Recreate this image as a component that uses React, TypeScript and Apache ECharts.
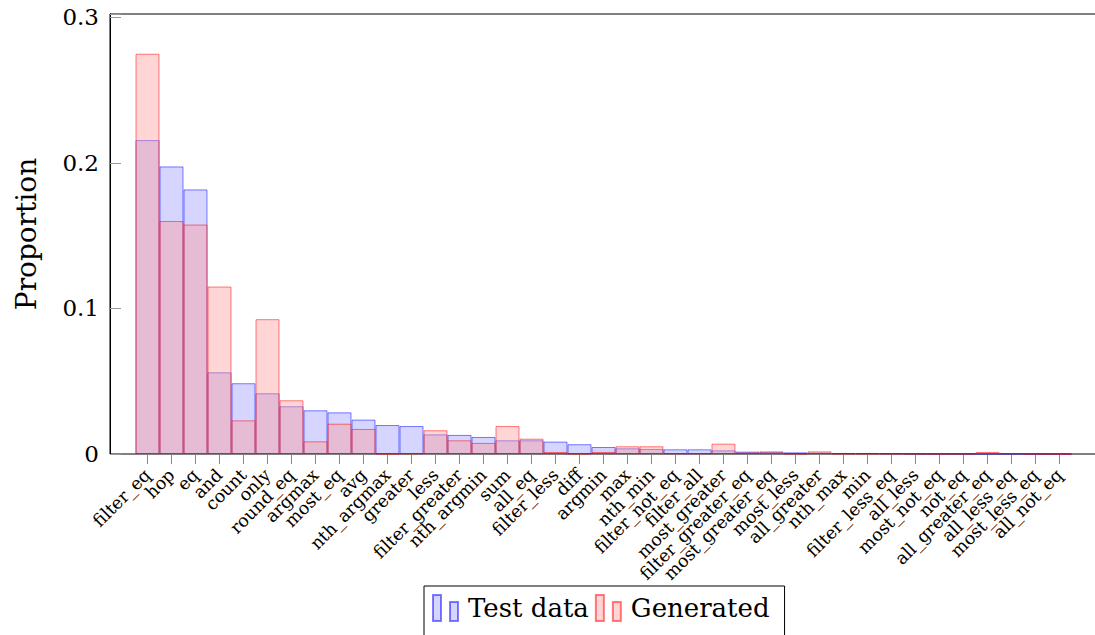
import React, { useEffect, useRef } from "react";
import * as echarts from "echarts";

const categories = [
  "filter_eq", "hop", "eq", "and", "count", "only", "round_eq", "argmax", "most_eq", "avg",
  "nth_argmax", "greater", "less", "filter_greater", "nth_argmin", "sum", "all_eq", "filter_less",
  "diff", "argmin", "max", "nth_min", "filter_not_eq", "filter_all", "most_greater",
  "filter_greater_eq", "most_greater_eq", "most_less", "all_greater", "nth_max", "min",
  "filter_less_eq", "all_less", "most_not_eq", "not_eq", "all_greater_eq", "all_less_eq",
  "most_less_eq", "all_not_eq",
];

const testData = [
  0.2156, 0.1975, 0.1817, 0.0561, 0.0486, 0.0417, 0.0328, 0.03, 0.0286, 0.0236,
  0.0199, 0.0192, 0.0135, 0.0131, 0.0117, 0.0094, 0.0094, 0.0085, 0.0067, 0.0048,
  0.0039, 0.0034, 0.0032, 0.0032, 0.0025, 0.0016, 0.0014, 0.0011, 0.0009, 0.0007,
  0.0007, 0.0005, 0.0003, 0.0002, 0.0002, 0.0001, 0.0001, 0.0001, 0.0001,
];

const generated = [
  0.2749, 0.16, 0.1576, 0.115, 0.0231, 0.0926, 0.0369, 0.0087, 0.0208, 0.0172,
  0.0001, 0.0004, 0.0163, 0.0094, 0.0076, 0.0192, 0.0105, 0.0014, 0.0002, 0.0014,
  0.0053, 0.0053, 0.0005, 0.0005, 0.0071, 0.001, 0.0018, 0.0002, 0.0018, 0.0003,
  0.0003, 0.0003, 0.0002, 0.0001, 0.0002, 0.0014, 0.0005, 0.0001, 0.0,
];

const yTicks = [0, 0.1, 0.2, 0.3];
const yMax = 0.3022;

const FONT = "DejaVu Serif";
const legendIcon = "path://M0,0H8V26H0Z M17,7H25V26H17Z";

export default function App() {
  const ref = useRef<HTMLDivElement>(null);
  useEffect(() => {
    if (!ref.current) return;
    const chart = echarts.init(ref.current, undefined, { renderer: "svg" });
    const fmtY = (v: number) => {
      const hit = yTicks.find((t) => Math.abs(t - v) < 1e-9);
      if (hit === undefined) return "";
      return hit === 0 ? "0" : String(hit);
    };
    chart.setOption({
      animation: false,
      backgroundColor: "#fff",
      grid: [
        {
          left: 110, right: -3, top: 14, bottom: 181,
          show: true, borderColor: "#000", borderWidth: 1, backgroundColor: "transparent",
          outerBoundsMode: "none", containLabel: false,
        },
        { left: 135.5, width: 936, top: 14, bottom: 181, outerBoundsMode: "none", containLabel: false },
      ],
      xAxis: [
        { type: "value", gridIndex: 0, min: 0, max: 1, show: false },
        {
          type: "category",
          gridIndex: 1,
          data: categories,
          boundaryGap: true,
          axisLine: { show: false },
          axisTick: { show: true, alignWithLabel: true, length: 10, lineStyle: { color: "#888", width: 1 } },
          axisLabel: {
            interval: 0,
            rotate: 45,
            margin: 18,
            fontFamily: FONT,
            fontSize: 17.5,
            color: "#000",
          },
          splitLine: { show: false },
        },
      ],
      yAxis: [
        {
          type: "value",
          gridIndex: 0,
          min: 0,
          max: yMax,
          interval: 0.1,
          name: "Proportion",
          nameLocation: "middle",
          nameRotate: 90,
          nameGap: 70,
          nameTextStyle: { fontFamily: FONT, fontSize: 28, color: "#000" },
          axisLine: { show: true, lineStyle: { color: "#000", width: 1 } },
          axisTick: { show: true, inside: true, length: 11, lineStyle: { color: "#999", width: 1 } },
          axisLabel: { formatter: fmtY, fontFamily: FONT, fontSize: 23, color: "#000", margin: 11, showMaxLabel: true },
          splitLine: { show: false },
        },
        { type: "value", gridIndex: 1, min: 0, max: yMax, show: false, splitLine: { show: false } },
      ],
      legend: {
        left: 424,
        top: 586,
        orient: "horizontal",
        data: [
          { name: "Test data", icon: legendIcon },
          { name: "Generated", icon: legendIcon },
        ],
        itemWidth: 25,
        itemHeight: 26,
        itemGap: 6,
        padding: [8, 15, 30, 8],
        borderColor: "#000",
        borderWidth: 1,
        textStyle: { fontFamily: FONT, fontSize: 26, color: "#000", padding: [0, 0, 0, 5] },
      },
      series: [
        {
          name: "Test data",
          type: "bar",
          xAxisIndex: 1,
          yAxisIndex: 1,
          data: testData,
          barCategoryGap: "0%",
          barGap: "-100%",
          itemStyle: { color: "rgba(150,150,255,0.4)", borderColor: "rgba(0,0,255,0.5)", borderWidth: 1 },
        },
        {
          name: "Generated",
          type: "bar",
          xAxisIndex: 1,
          yAxisIndex: 1,
          data: generated,
          barCategoryGap: "0%",
          barGap: "-100%",
          itemStyle: { color: "rgba(255,150,150,0.4)", borderColor: "rgba(255,0,0,0.5)", borderWidth: 1 },
        },
      ],
    });
    return () => chart.dispose();
  }, []);
  return (
    <div
      ref={ref}
      style={{ position: "absolute", left: 0, top: 0, width: 1095, height: 635, background: "#fff" }}
    />
  );
}
